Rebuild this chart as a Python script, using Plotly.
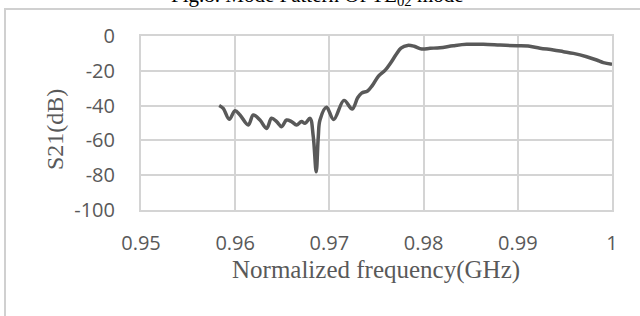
import plotly.graph_objects as go

# Data
freq = [0.9583, 0.95873, 0.95937, 0.95998, 0.96051, 0.96139, 0.96192, 0.96263,
        0.96333, 0.96386, 0.9644, 0.96492, 0.96545, 0.96598, 0.96651, 0.96704,
        0.96741, 0.96794, 0.96829, 0.9686, 0.96882, 0.969, 0.9697, 0.97045,
        0.97155, 0.97242, 0.973, 0.97342, 0.97405, 0.97455, 0.97519, 0.97595,
        0.9765, 0.9771, 0.9776, 0.9783, 0.979, 0.9798, 0.98068, 0.98174,
        0.98316, 0.98457, 0.98634, 0.98811, 0.98988, 0.9911, 0.99236, 0.99378,
        0.99484, 0.9959, 0.99731, 0.99837, 0.99908, 1.0]
s21 = [-39.9, -41.6, -47.9, -42.9, -45.4, -51.1, -45.4, -48.3,
       -53.1, -47.3, -49.2, -52.1, -48.3, -49.2, -51.1, -49.2,
       -50.2, -47.3, -57.9, -78.0, -57.9, -48.3, -41.0, -48.0,
       -37.0, -42.0, -35.5, -32.8, -31.6, -28.5, -23.2, -19.5,
       -15.5, -10.5, -7.0, -5.4, -5.9, -7.5, -7.1, -6.7,
       -5.6, -4.8, -4.8, -5.2, -5.6, -5.8, -7.0, -8.0,
       -9.0, -10.0, -11.9, -13.8, -15.3, -16.3]

x_tickvals = [0.95, 0.96, 0.97, 0.98, 0.99, 1.0]
x_ticktext = ["0.95", "0.96", "0.97", "0.98", "0.99", "1"]
y_tickvals = [0, -20, -40, -60, -80, -100]
y_ticktext = ["0", "-20", "-40", "-60", "-80", "-100"]

title_text = "Fig.8. Mode Pattern Of TE<sub>02</sub> mode"
x_title = "Normalized frequency(GHz)"
y_title = "S21(dB)"

grey = "#595959"
grid = "#d4d4d4"

fig = go.Figure()
fig.add_trace(go.Scatter(
    x=freq, y=s21, mode="lines",
    line=dict(color=grey, width=3.5, shape="spline", smoothing=1.0),
    showlegend=False, hoverinfo="skip"))

# plot area in pixels: x 141..612, y 36..210
L, R, T, B = 141, 612, 36, 210
W, H = R - L, B - T

def px_x(p):
    return (p - L) / W

def px_y(p):
    return 1 - (p - T) / H

fig.update_layout(
    width=640, height=316,
    margin=dict(l=L, r=640 - R, t=T, b=316 - B),
    paper_bgcolor="white", plot_bgcolor="white",
    xaxis=dict(range=[0.95, 1.0], tickvals=x_tickvals, ticktext=x_ticktext,
               showgrid=True, gridcolor=grid, gridwidth=2,
               showline=True, mirror=True, linecolor=grid, linewidth=2,
               zeroline=False, ticks="outside", ticklen=14,
               tickcolor="rgba(0,0,0,0)",
               tickfont=dict(family="Open Sans", size=20, color=grey)),
    yaxis=dict(range=[-100, 0], tickvals=y_tickvals, ticktext=y_ticktext,
               showgrid=True, gridcolor=grid, gridwidth=2,
               showline=True, mirror=True, linecolor=grid, linewidth=2,
               zeroline=False, ticks="outside", ticklen=20,
               tickcolor="rgba(0,0,0,0)",
               tickfont=dict(family="Open Sans", size=20, color=grey)),
    annotations=[
        dict(text=x_title, xref="paper", yref="paper",
             x=px_x(376), y=px_y(270), xanchor="center", yanchor="middle",
             showarrow=False,
             font=dict(family="Liberation Serif", size=25, color=grey)),
        dict(text=y_title, xref="paper", yref="paper",
             x=px_x(55), y=px_y(130), xanchor="center", yanchor="middle",
             textangle=-90, showarrow=False,
             font=dict(family="Liberation Serif", size=24, color=grey)),
        dict(text=title_text, xref="paper", yref="paper",
             x=px_x(317), y=px_y(-4), xanchor="center", yanchor="middle",
             showarrow=False,
             font=dict(family="Liberation Serif", size=21, color="black")),
    ],
    shapes=[
        dict(type="rect", xref="paper", yref="paper", layer="below",
             x0=px_x(5), y0=px_y(400), x1=px_x(700), y1=px_y(9),
             line=dict(color="#d0d0d0", width=2), fillcolor="rgba(0,0,0,0)"),
    ],
)

fig.write_html("out.html", config={"displayModeBar": False},
               post_script="document.body.style.margin='0';document.body.style.overflow='hidden';")
